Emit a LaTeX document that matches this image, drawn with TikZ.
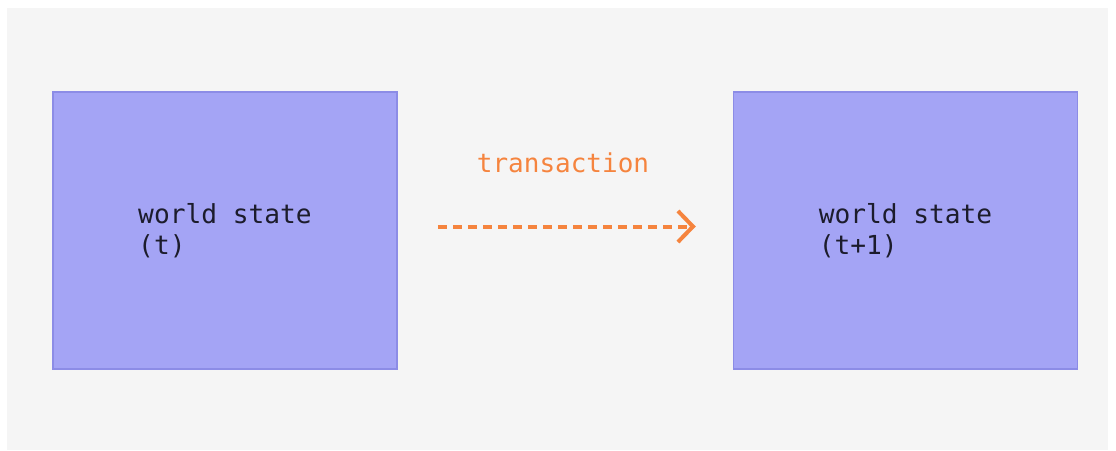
\documentclass[tikz,border=0pt]{standalone}
\usepackage{fontspec}
\setmonofont{DejaVu Sans Mono}
\usetikzlibrary{arrows.meta}
\definecolor{bgGray}{HTML}{F5F5F5}
\definecolor{boxFill}{HTML}{A4A4F5}
\definecolor{boxLine}{HTML}{8C8CE6}
\definecolor{txtDark}{HTML}{1C1C2C}
\definecolor{orangeC}{HTML}{F5843E}
\tikzset{
  statebox/.style={draw=boxLine, line width=1.5pt, fill=boxFill, minimum width=344pt, minimum height=277pt, inner sep=0pt,
    align=left, font=\ttfamily\fontsize{26.2}{31}\selectfont, text=txtDark},
  txarrow/.style={draw=orangeC, line width=4pt, dash pattern=on 9pt off 6pt, -{Straight Barb[length=15pt,width=31pt,line width=4pt]}},
  txlabel/.style={font=\ttfamily\fontsize{26}{30}\selectfont, text=orangeC, inner sep=0pt}
}
\begin{document}
\begin{tikzpicture}[x=1pt,y=1pt]
\useasboundingbox (0,0) rectangle (1116,-450);
\fill[white] (0,0) rectangle (1116,-450);
\fill[bgGray] (7,-8) rectangle (1108,-450);
\node[statebox] (L) at (225,-230.5) {world state\\(t)};
\node[statebox] (R) at (905.5,-230.5) {world state\\(t+1)};
\coordinate (A) at ([xshift=40pt,yshift=4pt]L.east);
\coordinate (B) at ([xshift=-37pt,yshift=4pt]R.west);
\draw[txarrow] (A) -- (B);
\node[txlabel] (T) at (563,-163) {transaction};
\end{tikzpicture}
\end{document}
